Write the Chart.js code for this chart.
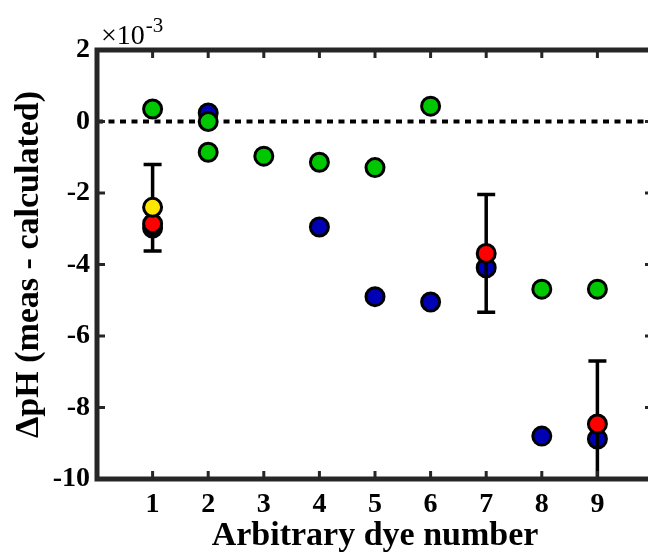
<!DOCTYPE html>
<html>
<head>
<meta charset="utf-8">
<script src="https://cdn.jsdelivr.net/npm/chart.js@4"></script>
<style>
  html, body { margin: 0; padding: 0; overflow: hidden; background: #fff; }
  #wrap { width: 665px; height: 557px; }
</style>
</head>
<body>
<div id="wrap"><canvas id="chart" width="665" height="557"></canvas></div>
<script>
// values are in units of 1e-3
const blueX = [2, 4, 5, 6, 7, 8, 9];
const blueY = [0.24, -2.95, -4.9, -5.05, -4.09, -8.8, -8.88];

const greenX = [1, 2, 2, 3, 4, 5, 6, 8, 9];
const greenY = [0.35, 0.0, -0.86, -0.97, -1.14, -1.29, 0.43, -4.69, -4.69];

const blackX = [1];
const blackY = [-2.98];

const redX = [1, 7, 9];
const redY = [-2.86, -3.69, -8.46];

const yellowX = [1];
const yellowY = [-2.4];

const errX = [1, 7, 9];
const errMid = [-2.41, -3.69, -8.46];
const errHalf = [1.21, 1.645, 1.76];

const xTicks = [1, 2, 3, 4, 5, 6, 7, 8, 9];
const yTicks = [2, 0, -2, -4, -6, -8, -10];

const serif = "'Liberation Serif', 'Times New Roman', serif";
const frameColor = "#262626";

function pts(xs, ys) {
  return xs.map((x, i) => ({x, y: ys[i]}));
}

function markers(label, xs, ys, color, order) {
  return {
    type: "scatter",
    label,
    data: pts(xs, ys),
    backgroundColor: color,
    borderColor: "#000",
    borderWidth: 3,
    pointRadius: 9,
    pointHoverRadius: 9,
    order,
  };
}

// error bars, drawn right after the black markers
const errorBars = {
  id: "errorBars",
  afterDatasetDraw(chart, args) {
    if (args.meta.label !== "black") return;
    const {ctx, chartArea, scales} = chart;
    ctx.save();
    ctx.beginPath();
    ctx.rect(chartArea.left, chartArea.top, chartArea.right - chartArea.left, chartArea.bottom - chartArea.top);
    ctx.clip();
    ctx.strokeStyle = "#000";
    ctx.lineWidth = 3.5;
    errX.forEach((x, i) => {
      const px = scales.x.getPixelForValue(x);
      const top = scales.y.getPixelForValue(errMid[i] + errHalf[i]);
      const bot = scales.y.getPixelForValue(errMid[i] - errHalf[i]);
      ctx.beginPath();
      ctx.moveTo(px, top); ctx.lineTo(px, bot);
      ctx.moveTo(px - 9, top); ctx.lineTo(px + 9, top);
      ctx.moveTo(px - 9, bot); ctx.lineTo(px + 9, bot);
      ctx.stroke();
    });
    ctx.restore();
  },
};

// box with inward ticks, and the exponent label
const frame = {
  id: "frame",
  afterDraw(chart) {
    const {ctx, chartArea: a, scales} = chart;
    ctx.save();
    ctx.strokeStyle = frameColor;
    ctx.lineWidth = 5;
    ctx.strokeRect(a.left, a.top, a.right - a.left, a.bottom - a.top);
    ctx.lineWidth = 3;
    const len = 8;
    ctx.beginPath();
    xTicks.forEach((v) => {
      const px = scales.x.getPixelForValue(v);
      ctx.moveTo(px, a.bottom); ctx.lineTo(px, a.bottom - len);
      ctx.moveTo(px, a.top); ctx.lineTo(px, a.top + len);
    });
    yTicks.forEach((v) => {
      if (v === 2 || v === -10) return;
      const py = scales.y.getPixelForValue(v);
      ctx.moveTo(a.left, py); ctx.lineTo(a.left + len, py);
      ctx.moveTo(a.right, py); ctx.lineTo(a.right - len, py);
    });
    ctx.stroke();

    ctx.fillStyle = "#000";
    ctx.textBaseline = "alphabetic";
    ctx.font = "28px " + serif;
    ctx.fillText("\u00d710", a.left + 4, 44);
    const w = ctx.measureText("\u00d710").width;
    ctx.font = "21px " + serif;
    ctx.fillText("-3", a.left + 5 + w, 32);
    ctx.restore();
  },
};

const config = {
  data: {
    datasets: [
      {
        type: "line",
        label: "zero",
        data: [{x: 0, y: 0}, {x: 10, y: 0}],
        borderColor: "#000",
        borderWidth: 4,
        borderDash: [6, 5.5],
        pointRadius: 0,
        order: 10,
      },
      markers("blue", blueX, blueY, "#0000b4", 6),
      markers("green", greenX, greenY, "#00c800", 5),
      markers("black", blackX, blackY, "#000", 4),
      markers("red", redX, redY, "#ff0000", 3),
      markers("yellow", yellowX, yellowY, "#ffe600", 2),
    ],
  },
  options: {
    responsive: false,
    animation: false,
    layout: {padding: {top: 50, right: 4, left: 0, bottom: 0}},
    plugins: {legend: {display: false}, tooltip: {enabled: false}},
    scales: {
      x: {
        type: "linear",
        min: 0,
        max: 10,
        grid: {display: false, drawTicks: false},
        border: {display: false},
        afterBuildTicks: (s) => { s.ticks = xTicks.map((v) => ({value: v})); },
        ticks: {
          color: "#000",
          font: {family: serif, size: 28, weight: "bold"},
          padding: 9,
          maxRotation: 0,
        },
        title: {
          display: true,
          text: "Arbitrary dye number",
          color: "#000",
          font: {family: serif, size: 34, weight: "bold"},
          padding: 0,
        },
        afterFit: (s) => { s.height = 78; },
      },
      y: {
        type: "linear",
        min: -10,
        max: 2,
        grid: {display: false, drawTicks: false},
        border: {display: false},
        afterBuildTicks: (s) => { s.ticks = yTicks.map((v) => ({value: v})); },
        ticks: {
          color: "#000",
          font: {family: serif, size: 28, weight: "bold"},
          padding: 7,
        },
        title: {
          display: true,
          text: "\u0394pH (meas - calculated)",
          color: "#000",
          font: {family: serif, size: 34, weight: "bold"},
          padding: {top: 9, bottom: 0},
        },
        afterFit: (s) => { s.width = 97; },
      },
    },
  },
  plugins: [errorBars, frame],
};

window.onload = function () {
  const ctx = document.getElementById("chart").getContext("2d");
  window.chart = new Chart(ctx, config);
};
</script>
</body>
</html>
